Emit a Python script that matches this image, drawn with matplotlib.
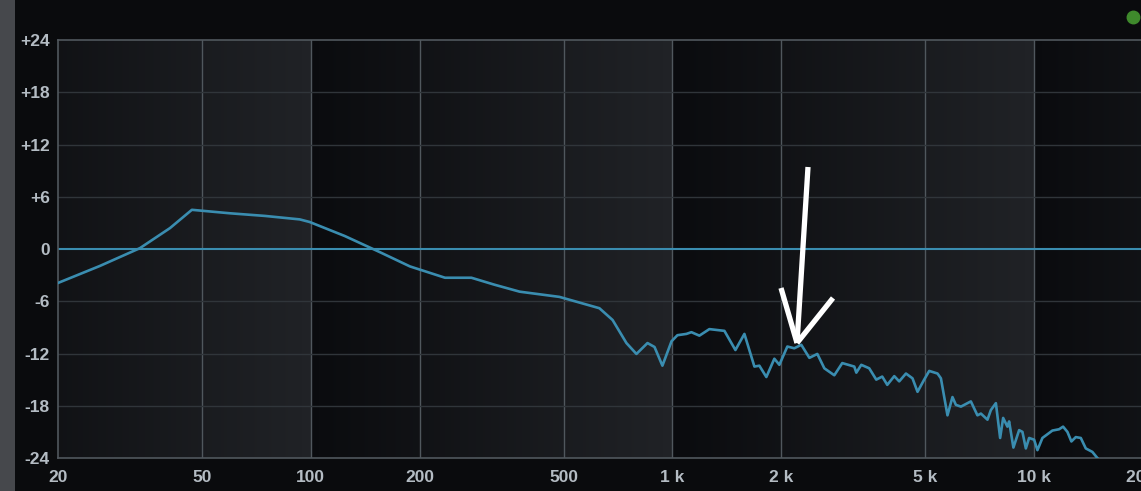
"""EQ analyser style frequency response plot."""
import numpy as np
import matplotlib
matplotlib.use("Agg")
import matplotlib.pyplot as plt
from matplotlib.colors import LinearSegmentedColormap
from matplotlib.lines import Line2D

# response (Hz, dB)
freqs = [20, 26.1, 33.7, 40.8, 46.9, 59.8, 74.6, 93.2, 99.3, 124, 155, 188,
         235, 278, 322, 378, 487, 628, 683, 746, 795, 853, 892, 938, 994,
         1032, 1093, 1128, 1187, 1265, 1392, 1493, 1581, 1685, 1739, 1818,
         1913, 1975, 2078, 2172, 2271, 2391, 2515, 2630, 2802, 2948, 3182,
         3224, 3327, 3500, 3660, 3802, 3926, 4105, 4236, 4422, 4610, 4760,
         4966, 5128, 5406, 5524, 5760, 5946, 6076, 6275, 6684, 6970, 7126,
         7430, 7592, 7839, 8054, 8210, 8436, 8528, 8764, 9090, 9282, 9486,
         9686, 10000, 10212, 10542, 11232, 11722, 12024, 12360, 12678, 13038,
         13460, 13894, 14488, 14958, 16110]
gains = [-3.9, -1.95, 0.1, 2.4, 4.5, 4.1, 3.8, 3.4, 3.1, 1.5, -0.35, -2.0,
         -3.3, -3.3, -4.1, -4.9, -5.5, -6.8, -8.15, -10.8, -12.05, -10.8,
         -11.25, -13.4, -10.6, -9.9, -9.75, -9.55, -9.95, -9.2, -9.4, -11.6,
         -9.75, -13.5, -13.4, -14.7, -12.6, -13.3, -11.2, -11.4, -11.0, -12.5,
         -12.05, -13.7, -14.5, -13.1, -13.5, -14.2, -13.3, -13.7, -15.0,
         -14.65, -15.6, -14.6, -15.2, -14.3, -14.85, -16.4, -15.0, -14.0,
         -14.3, -14.85, -19.1, -17.0, -17.9, -18.1, -17.5, -19.1, -18.9,
         -19.6, -18.5, -17.7, -21.7, -19.4, -20.4, -19.8, -22.8, -20.8, -21.0,
         -22.9, -21.7, -21.9, -23.1, -21.7, -20.85, -20.7, -20.4, -21.0,
         -22.1, -21.6, -21.7, -22.9, -23.3, -24.0, -25.5]

x_ticks = [20, 50, 100, 200, 500, 1000, 2000, 5000, 10000, 20000]
x_labels = ["20", "50", "100", "200", "500", "1 k", "2 k", "5 k", "10 k",
            "20 k"]
y_ticks = [24, 18, 12, 6, 0, -6, -12, -18, -24]
y_labels = ["+24", "+18", "+12", "+6", "0", "-6", "-12", "-18", "-24"]

W, H = 1141, 491
CURVE = "#3a8db0"
GRID = "#50575d"
TEXT = "#b4bcc3"

fig = plt.figure(figsize=(W / 100, H / 100), dpi=100, facecolor="#0a0b0d")
ax = fig.add_axes([58 / W, 33 / H, (1143 - 58) / W, (458 - 40) / H])
ax.set_xscale("log")
ax.set_xlim(20, 20000)
ax.set_ylim(-24, 24)

# shaded bands: brightness ramps up inside each decade
edges = np.logspace(np.log10(20), np.log10(20000), 700)
mids = np.sqrt(edges[:-1] * edges[1:])
shade = np.log10(mids) % 1.0
cmap = LinearSegmentedColormap.from_list("bg", ["#0a0b0e", "#202226"])
ax.pcolormesh(edges, [-24, 24], shade[np.newaxis, :], cmap=cmap,
              vmin=0, vmax=1, shading="flat", zorder=0)

for f in x_ticks[1:-1]:
    ax.axvline(f, color=GRID, lw=1.0, zorder=1)
for g in [18, 12, 6, -6, -12, -18]:
    ax.axhline(g, color="#30353a", lw=1.0, zorder=1)
ax.axhline(0, color=CURVE, lw=1.5, zorder=2)

ax.plot(freqs, gains, color=CURVE, lw=1.9, zorder=3, clip_on=True)

for side in ["top", "bottom", "left"]:
    ax.spines[side].set_color(GRID)
    ax.spines[side].set_linewidth(1.2)
ax.spines["right"].set_visible(False)

ax.set_xticks(x_ticks)
ax.set_xticklabels(x_labels)
ax.xaxis.set_minor_locator(matplotlib.ticker.NullLocator())
ax.set_yticks(y_ticks)
ax.set_yticklabels(y_labels)
ax.tick_params(axis="both", length=0, colors=TEXT, labelsize=12.5)
ax.tick_params(axis="x", pad=9)
ax.tick_params(axis="y", pad=6)
for lbl in ax.get_xticklabels() + ax.get_yticklabels():
    lbl.set_fontfamily("Liberation Sans")
    lbl.set_fontweight("bold")

# grey strip on the left edge and status dot top right
fig.patches.append(plt.Rectangle((0, 0), 15 / W, 1, transform=fig.transFigure,
                                 facecolor="#46484c", edgecolor="none"))
fig.add_artist(Line2D([1133 / W], [1 - 17 / H], marker="o", markersize=9,
                      color="#3f8a2c", transform=fig.transFigure))

# hand drawn white arrow pointing at the 2 kHz bump
tip = (797, 343)
for start in [(808, 167), (781, 288), (833, 298)]:
    fig.add_artist(Line2D([start[0] / W, tip[0] / W],
                          [1 - start[1] / H, 1 - tip[1] / H],
                          color="white", lw=3.8, solid_capstyle="butt",
                          transform=fig.transFigure))

fig.savefig("out.png", dpi=100, facecolor=fig.get_facecolor())
